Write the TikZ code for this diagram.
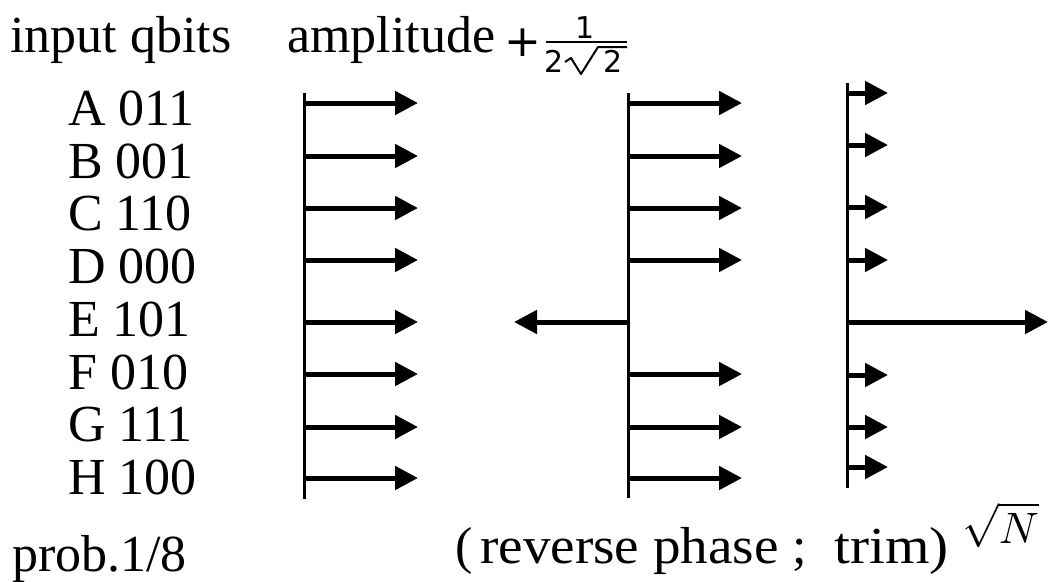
\documentclass[tikz,border=0pt]{standalone}
\usepackage{fontspec}
\setmainfont{Liberation Serif}
\newfontfamily\dvs{DejaVu Sans}
\usetikzlibrary{arrows.meta}
\begin{document}
\begin{tikzpicture}[x=1pt,y=-1pt,
  lbl/.style={inner sep=0pt, anchor=base west, font=\fontsize{52}{60}\selectfont},
  sanslbl/.style={inner sep=0pt, font=\dvs},
  axisline/.style={line width=3pt},
  amp/.style={line width=5pt, -{Triangle[length=23pt,width=23pt]}},
  thinrule/.style={line width=2pt},
]
\useasboundingbox (0,0) rectangle (1049,581);
% headings
\node[lbl] (hin) at (10,52) {input qbits};
\node[lbl] (hamp) at (287,52) {amplitude};
\node[sanslbl, anchor=base west] (hplus) at (504,56) {\scalebox{4.4}{+}};
\node[sanslbl, anchor=base] (fnum) at (585,38) {\scalebox{3}{1}};
\draw[thinrule] (546,42) -- (627,42);
\node[sanslbl, anchor=base west] (fden1) at (544,72) {\scalebox{3}{2}};
\node[sanslbl, anchor=base west] (fden2) at (603,72) {\scalebox{3}{2}};
\draw[line width=2pt, line join=round] (565,62) -- (571,58) -- (581,74) -- (598,47) -- (627,47);
% row labels
\foreach \lab/\y [count=\i] in {A 011/125.5, B 001/178.2, C 110/230.9, D 000/283.6, E 101/336.3, F 010/389, G 111/441.7, H 100/494.4}
  \node[lbl] (row\i) at (68,\y) {\lab};
% column 1
\coordinate (c1top) at (304,93);
\coordinate (c1bot) at (304,499);
\draw[axisline] (c1top) -- (c1bot);
\foreach \y [count=\i] in {103,156,208,260,322,374,427,478} {
  \coordinate (c1s\i) at (304,\y);
  \coordinate (c1e\i) at (418,\y);
  \draw[amp] (c1s\i) -- (c1e\i);
}
% column 2
\coordinate (c2top) at (628,93);
\coordinate (c2bot) at (628,498);
\draw[axisline] (c2top) -- (c2bot);
\foreach \y [count=\i] in {103,156,208,260,374,427,478} {
  \coordinate (c2s\i) at (628,\y);
  \coordinate (c2e\i) at (742,\y);
  \draw[amp] (c2s\i) -- (c2e\i);
}
\coordinate (c2sE) at (628,322);
\coordinate (c2eE) at (514,322);
\draw[amp] (c2sE) -- (c2eE);
% column 3
\coordinate (c3top) at (847,83);
\coordinate (c3bot) at (847,488);
\draw[axisline] (c3top) -- (c3bot);
\foreach \y [count=\i] in {93,145,207,260,375,427,467} {
  \coordinate (c3s\i) at (847,\y);
  \coordinate (c3e\i) at (888,\y);
  \draw[amp] (c3s\i) -- (c3e\i);
}
\coordinate (c3sE) at (847,322);
\coordinate (c3eE) at (1048,322);
\draw[amp] (c3sE) -- (c3eE);
% bottom texts
\node[lbl] (prob) at (12,571) {prob.1/8};
\node[lbl] (lpar) at (455,563) {(};
\node[lbl] (rev) at (480,563) {\scalebox{1.06}[1]{reverse phase}};
\node[lbl] (semi) at (792,563) {;};
\node[lbl] (trim) at (834,563) {\scalebox{1.1}[1]{trim)}};
\node[inner sep=0pt, anchor=base west] (sqrtn) at (962,543) {\scalebox{4.4}{$\sqrt{N}$}};
\end{tikzpicture}
\end{document}
